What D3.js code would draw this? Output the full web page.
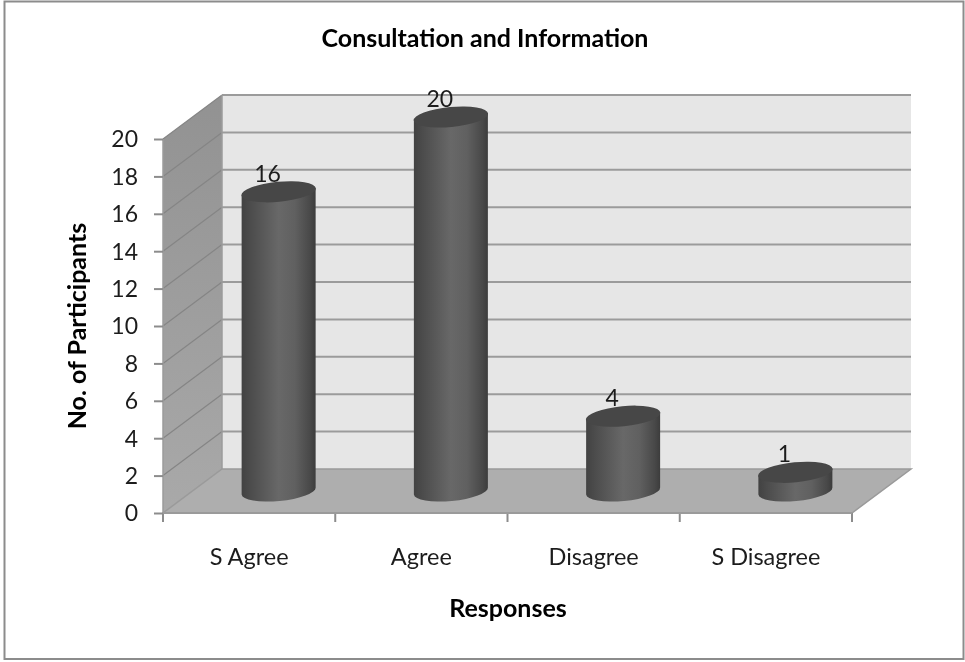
<!DOCTYPE html>
<html>
<head>
<meta charset="utf-8">
<script src="https://cdn.jsdelivr.net/npm/d3@7/dist/d3.min.js"></script>
<style>
html,body{margin:0;padding:0;background:#fff;}
svg{display:block;filter:blur(0.45px);}
text{font-family:Lato,"Open Sans",sans-serif;fill:#1c1c1c;}
</style>
</head>
<body>
<svg id="chart" width="965" height="662"></svg>
<script>
const categories = ["S Agree", "Agree", "Disagree", "S Disagree"];
const values = [16, 20, 4, 1];
const yTicks = d3.range(0, 21, 2);
const chartTitle = "Consultation and Information";
const xTitle = "Responses";
const yTitle = "No. of Participants";

const depthX = 59, depthY = -44;
const barWidth = 74, capRy = 10, tiltDeg = -5.5;

const svg = d3.select("#chart");
const x = d3.scaleBand().domain(categories).range([163, 852]);
const y = d3.scaleLinear().domain([0, 20]).range([513, 139]);
const x0 = x.range()[0], x1 = x.range()[1], y0 = y(0), y20 = y(20);

const defs = svg.append("defs");
const wallGrad = defs.append("linearGradient").attr("id", "wall").attr("x1", 0).attr("x2", 0).attr("y1", 0).attr("y2", 1);
wallGrad.append("stop").attr("offset", 0).attr("stop-color", "#929292");
wallGrad.append("stop").attr("offset", 1).attr("stop-color", "#a9a9a9");
const cyl = defs.append("linearGradient").attr("id", "cyl").attr("x1", 0).attr("x2", 1).attr("y1", 0).attr("y2", 0);
[[0, "#424242"], [0.12, "#4c4c4c"], [0.5, "#686868"], [0.72, "#606060"], [0.93, "#484848"], [1, "#3c3c3c"]]
  .forEach(s => cyl.append("stop").attr("offset", s[0]).attr("stop-color", s[1]));

// frame
svg.append("rect").attr("x", 4.5).attr("y", 1.5).attr("width", 959).attr("height", 657.5)
  .attr("fill", "#fff").attr("stroke", "#8c8c8c").attr("stroke-width", 2);

// back wall
svg.append("rect").attr("x", x0 + depthX).attr("y", y20 + depthY)
  .attr("width", x1 - x0).attr("height", y0 - y20).attr("fill", "#e6e6e6");
// side wall
svg.append("path").attr("fill", "url(#wall)")
  .attr("d", `M${x0},${y0}L${x0},${y20}L${x0 + depthX},${y20 + depthY}L${x0 + depthX},${y0 + depthY}Z`);
// floor
svg.append("path").attr("fill", "#aeaeae").attr("stroke", "#9a9a9a").attr("stroke-width", 1.5)
  .attr("d", `M${x0},${y0}L${x1},${y0}L${x1 + depthX},${y0 + depthY}L${x0 + depthX},${y0 + depthY}Z`);

// gridlines
const grid = svg.append("g");
yTicks.filter(d => d > 0).forEach(d => {
  grid.append("line").attr("x1", x0 + depthX).attr("x2", x1 + depthX)
    .attr("y1", y(d) + depthY).attr("y2", y(d) + depthY)
    .attr("stroke", "#9b9b9b").attr("stroke-width", 2);
  grid.append("line").attr("x1", x0).attr("x2", x0 + depthX)
    .attr("y1", y(d)).attr("y2", y(d) + depthY)
    .attr("stroke", "#858585").attr("stroke-width", 1.2);
});
grid.append("line").attr("x1", x0 + depthX).attr("x2", x0 + depthX)
  .attr("y1", y20 + depthY).attr("y2", y0 + depthY).attr("stroke", "#9b9b9b").attr("stroke-width", 1.5);
grid.append("line").attr("x1", x0).attr("x2", x0)
  .attr("y1", y20).attr("y2", y0).attr("stroke", "#9b9b9b").attr("stroke-width", 1.5);

// y axis
const yAxis = svg.append("g").attr("transform", `translate(${x0},0)`)
  .call(d3.axisLeft(y).tickValues(yTicks).tickSize(9).tickPadding(16));
yAxis.select(".domain").remove();
yAxis.selectAll("line").attr("stroke", "#8c8c8c").attr("stroke-width", 2);
yAxis.selectAll("text").style("font-size", "23px").attr("dy", "0.34em");

// x axis
const xAxis = svg.append("g").attr("transform", `translate(0,${y0})`)
  .call(d3.axisBottom(x).tickSize(0).tickPadding(35));
xAxis.select(".domain").remove();
xAxis.selectAll("text").style("font-size", "23.5px").attr("dy", "0.71em");
categories.concat([null]).forEach((c, i) => {
  const px = c === null ? x1 : x(c);
  xAxis.append("line").attr("x1", px).attr("x2", px).attr("y1", 0).attr("y2", 9)
    .attr("stroke", "#8c8c8c").attr("stroke-width", 2);
});
svg.append("line").attr("x1", x0).attr("x2", x1).attr("y1", y0).attr("y2", y0)
  .attr("stroke", "#9a9a9a").attr("stroke-width", 2);

// cylinders
const rad = tiltDeg * Math.PI / 180;
const bars = svg.append("g");
categories.forEach((c, i) => {
  const cx = x(c) + x.bandwidth() / 2 + depthX / 2;
  const yb = y(0) + depthY / 2;
  const yt = y(values[i]) + depthY / 2;
  const r = barWidth / 2;
  const dy = r * Math.tan(rad);
  bars.append("path").attr("fill", "url(#cyl)")
    .attr("d", `M${cx - r},${yt - dy}L${cx + r},${yt + dy}L${cx + r},${yb + dy}` +
      `A${r},${capRy} ${tiltDeg} 0 1 ${cx - r},${yb - dy}Z`);
  bars.append("ellipse").attr("cx", 0).attr("cy", 0).attr("rx", r + 0.4).attr("ry", capRy)
    .attr("transform", `translate(${cx},${yt}) rotate(${tiltDeg})`)
    .attr("fill", "#474747");
  bars.append("text").attr("x", cx - 11).attr("y", yt - 10)
    .attr("text-anchor", "middle").style("font-size", "23px").text(values[i]);
});

// titles
svg.append("text").attr("x", 485).attr("y", 47).attr("text-anchor", "middle")
  .style("font-size", "25px").style("font-weight", 700).style("fill", "#000").text(chartTitle);
svg.append("text").attr("x", 508).attr("y", 617).attr("text-anchor", "middle")
  .style("font-size", "25px").style("font-weight", 700).style("fill", "#000").text(xTitle);
svg.append("text").attr("transform", "translate(86,326) rotate(-90)").attr("text-anchor", "middle")
  .style("font-size", "25px").style("font-weight", 700).style("fill", "#000").text(yTitle);
</script>
</body>
</html>
